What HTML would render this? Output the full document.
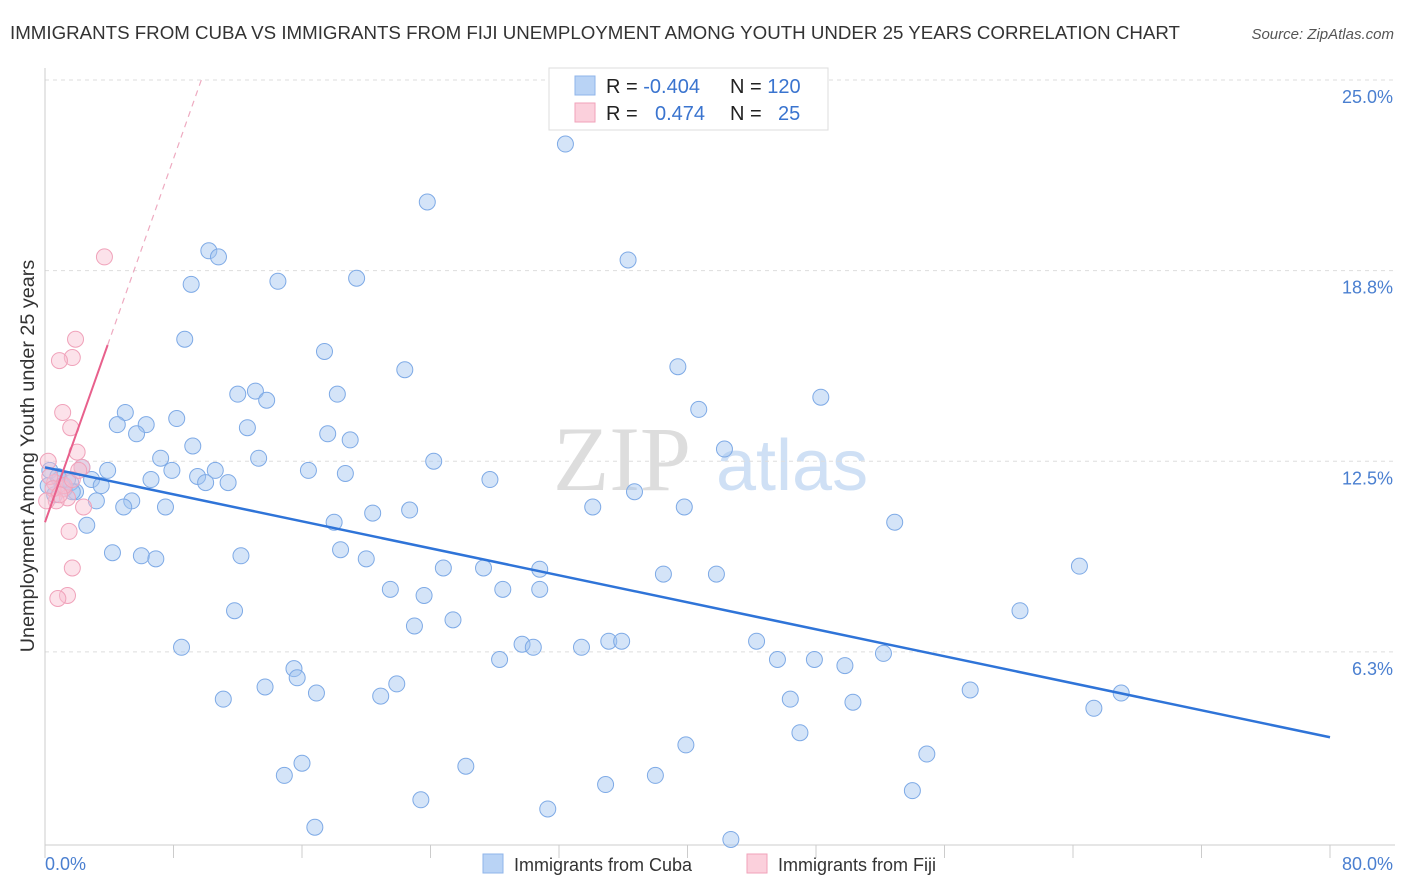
<!DOCTYPE html>
<html><head><meta charset="utf-8"><style>
body{margin:0;background:#fff;font-family:"Liberation Sans",sans-serif;}
svg{display:block}
</style></head><body>
<svg id="chart" width="1406" height="892" viewBox="0 0 1406 892" xmlns="http://www.w3.org/2000/svg">
<text x="10" y="39" font-size="18" fill="#333" textLength="1170" lengthAdjust="spacingAndGlyphs">IMMIGRANTS FROM CUBA VS IMMIGRANTS FROM FIJI UNEMPLOYMENT AMONG YOUTH UNDER 25 YEARS CORRELATION CHART</text>
<text x="1394" y="39" font-size="15" fill="#555" text-anchor="end" font-style="italic">Source: ZipAtlas.com</text>
<g>
<text x="553" y="490" font-size="92" fill="#ddd" font-family="Liberation Serif,serif">ZIP</text>
<text x="716" y="490" font-size="72" fill="#cfe0f5">atlas</text>
</g>
<g id="grid"></g>
<g id="axes"></g>
<g id="marks"></g>
<text transform="translate(34,456) rotate(-90)" font-size="19.8" fill="#333" text-anchor="middle">Unemployment Among Youth under 25 years</text>
<text x="45" y="870" font-size="18" fill="#4a7fd0">0.0%</text>
<text x="1393" y="870" font-size="18" fill="#4a7fd0" text-anchor="end">80.0%</text>
<g>
<rect x="549" y="68" width="279" height="62" fill="#fff" stroke="#ddd"/>
<rect x="575" y="76" width="20" height="19" fill="#b9d3f5" stroke="#8fb5ea"/>
<rect x="575" y="103" width="20" height="19" fill="#fbd0dc" stroke="#f0a2ba"/>
<text x="606" y="93" font-size="20" fill="#222">R = <tspan fill="#3a74cf">-0.404</tspan></text>
<text x="730" y="93" font-size="20" fill="#222">N = <tspan fill="#3a74cf">120</tspan></text>
<text x="606" y="120" font-size="20" fill="#222">R = <tspan x="655" fill="#3a74cf">0.474</tspan></text>
<text x="730" y="120" font-size="20" fill="#222">N = <tspan x="778" fill="#3a74cf">25</tspan></text>
</g>
<g>
<rect x="483" y="854" width="20" height="19" fill="#b9d3f5" stroke="#8fb5ea"/>
<text x="514" y="871" font-size="18" fill="#333">Immigrants from Cuba</text>
<rect x="747" y="854" width="20" height="19" fill="#fbd0dc" stroke="#f0a2ba"/>
<text x="778" y="871" font-size="18" fill="#333">Immigrants from Fiji</text>
</g>
</svg>
<script>
const yTicks=[25.0,18.8,12.5,6.3];
const yTickVals=[25,18.75,12.5,6.25];
const xTickVals=[0,8,16,24,32,40,48,56,64,72,80];
const cubaX=[32.4,23.8,36.3,10.2,10.8,9.1,14.5,19.4,8.7,17.4,22.4,39.4,12.0,13.1,13.8,18.2,48.3,40.7,5.0,4.5,6.3,8.2,5.7,12.6,17.6,19.0,9.2,42.3,7.2,13.3,24.2,2.3,3.9,7.9,10.6,16.4,18.7,27.7,2.9,9.5,10.0,11.4,6.6,3.5,1.9,5.4,4.9,3.2,7.5,34.1,39.8,20.4,22.7,36.7,18.0,52.9,2.6,4.2,6.0,6.9,12.2,18.4,20.0,24.8,27.3,30.8,38.5,41.8,64.4,21.5,28.5,30.8,23.6,11.8,60.7,25.4,23.0,29.7,30.4,35.1,35.9,33.4,44.3,8.5,28.3,45.6,47.9,49.8,52.2,15.5,15.7,13.7,21.9,16.9,20.9,11.1,46.4,50.3,57.6,67.0,65.3,47.0,39.9,54.9,16.0,14.9,26.2,38.0,34.9,54.0,23.4,31.3,16.8,42.7,0.3,0.9,1.2,1.6,0.6,1.1,1.4,1.7,0.2,0.8];
const cubaY=[22.9,21.0,19.1,19.4,19.2,18.3,18.4,18.5,16.5,16.1,15.5,15.6,14.7,14.8,14.5,14.7,14.6,14.2,14.1,13.7,13.7,13.9,13.4,13.6,13.4,13.2,13.0,12.9,12.6,12.6,12.5,12.3,12.2,12.2,12.2,12.2,12.1,11.9,11.9,12.0,11.8,11.8,11.9,11.7,11.5,11.2,11.0,11.2,11.0,11.0,11.0,10.8,10.9,11.5,10.5,10.5,10.4,9.5,9.4,9.3,9.4,9.6,9.3,9.0,9.0,8.96,8.8,8.8,9.06,8.3,8.3,8.3,8.1,7.6,7.6,7.3,7.1,6.5,6.4,6.6,6.6,6.4,6.6,6.4,6.0,6.0,6.0,5.8,6.2,5.7,5.4,5.1,5.2,4.9,4.8,4.7,4.7,4.6,5.0,4.9,4.4,3.6,3.2,2.9,2.6,2.2,2.5,2.2,1.9,1.7,1.4,1.1,0.5,0.1,12.2,11.9,11.6,11.8,11.4,11.7,11.9,11.5,11.7,12.0];
const fijiX=[3.7,1.9,1.7,0.9,1.1,1.6,2.0,0.2,2.3,0.6,1.1,1.4,0.7,2.4,1.5,1.7,1.4,0.8,0.3,0.5,1.2,0.9,1.7,2.1,0.1];
const fijiY=[19.2,16.5,15.9,15.8,14.1,13.6,12.8,12.5,12.3,11.8,11.6,11.3,11.2,11.0,10.2,9.0,8.1,8.0,12.0,11.6,11.7,11.4,11.9,12.2,11.2];
const cubaTrend=[12.3,3.45];
const fijiTrend=[10.5,1.49];
const NS='http://www.w3.org/2000/svg';
const xs=v=>45+v*(1285/80);
const ys=v=>80+(25-v)*30.5;
function mk(tag,attrs,parent){const e=document.createElementNS(NS,tag);for(const k in attrs)e.setAttribute(k,attrs[k]);parent.appendChild(e);return e;}
const grid=document.getElementById('grid'),axes=document.getElementById('axes'),marks=document.getElementById('marks');
yTickVals.forEach((v,i)=>{
 const l=mk('line',{x1:45,x2:1395,y1:ys(v),y2:ys(v),stroke:'#ddd','stroke-dasharray':'4,4'},grid);
 
 
 const t=mk('text',{x:1393,y:ys(v)+23,'font-size':18,fill:'#4a7fd0','text-anchor':'end'},grid);
 t.textContent=yTicks[i].toFixed(1)+'%';
 
 
});
const xa=mk('line',{x1:45,x2:1395,y1:845,y2:845,stroke:'#ccc'},axes);


const ya=mk('line',{x1:45,x2:45,y1:68,y2:845,stroke:'#ccc'},axes);


xTickVals.forEach(v=>{
 const t=mk('line',{x1:xs(v),x2:xs(v),y1:845,y2:858,stroke:'#ccc'},axes);
 
 
});
cubaX.forEach((x,i)=>{
 const c=mk('circle',{cx:xs(x),cy:ys(cubaY[i]),r:8,fill:'rgba(160,196,240,0.45)',stroke:'#7eaae6','stroke-width':1},marks);
 
 
});
fijiX.forEach((x,i)=>{
 const c=mk('circle',{cx:xs(x),cy:ys(fijiY[i]),r:8,fill:'rgba(248,190,208,0.45)',stroke:'#f0a2ba','stroke-width':1},marks);
 
 
});
const cl=mk('line',{x1:xs(0),y1:ys(cubaTrend[0]),x2:xs(80),y2:ys(cubaTrend[1]),stroke:'#2f74d8','stroke-width':2.5},marks);


const fx1=3.9,fx2=9.8;
const fs=mk('line',{x1:xs(0),y1:ys(fijiTrend[0]),x2:xs(fx1),y2:ys(fijiTrend[0]+fijiTrend[1]*fx1),stroke:'#e8608c','stroke-width':2},marks);


const fd=mk('line',{x1:xs(fx1),y1:ys(fijiTrend[0]+fijiTrend[1]*fx1),x2:xs(fx2),y2:ys(fijiTrend[0]+fijiTrend[1]*fx2),stroke:'#eeaac0','stroke-width':1.2,'stroke-dasharray':'6,5'},marks);


</script>
</body></html>
